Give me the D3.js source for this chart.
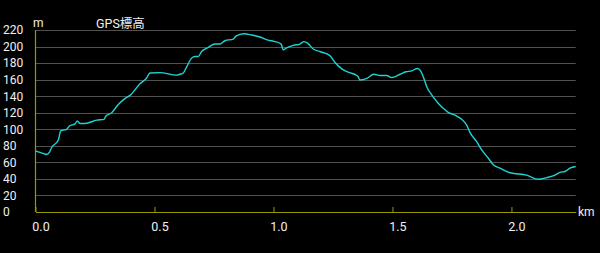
<!DOCTYPE html>
<html>
<head>
<meta charset="utf-8">
<script src="https://cdn.jsdelivr.net/npm/d3@7"></script>
<style>
  html, body { margin: 0; padding: 0; background: #000; }
  svg { display: block; font-family: Roboto, "Noto Sans CJK JP", sans-serif; }
</style>
</head>
<body>
<svg id="chart" width="600" height="253"></svg>
<script>
// distance along the track (km) and GPS elevation (m)
const distKm = [0.000, 0.019, 0.035, 0.047, 0.058, 0.068, 0.096, 0.106, 0.131, 0.142,
  0.166, 0.176, 0.187, 0.208, 0.257, 0.288, 0.296, 0.320, 0.348, 0.376,
  0.397, 0.439, 0.467, 0.481, 0.523, 0.593, 0.607, 0.621, 0.635, 0.656,
  0.670, 0.684, 0.698, 0.726, 0.754, 0.775, 0.796, 0.831, 0.842, 0.876,
  0.908, 0.943, 0.974, 1.006, 1.027, 1.034, 1.041, 1.055, 1.083, 1.111,
  1.128, 1.146, 1.167, 1.195, 1.237, 1.258, 1.287, 1.314, 1.350, 1.356,
  1.363, 1.392, 1.422, 1.447, 1.476, 1.497, 1.532, 1.557, 1.581, 1.604,
  1.616, 1.632, 1.644, 1.665, 1.692, 1.713, 1.734, 1.763, 1.791, 1.812,
  1.826, 1.854, 1.875, 1.903, 1.924, 1.952, 1.994, 2.064, 2.113, 2.148,
  2.183, 2.204, 2.225, 2.246, 2.270];
const elevM = [74, 72, 70.5, 69.5, 72, 78, 87, 98, 100, 104,
  106.5, 110, 107, 107, 111, 112, 116, 120, 130, 137,
  141, 155, 162, 168, 168.5, 165.5, 166.5, 168, 175.5, 186,
  188, 188, 194, 199, 203, 203, 207, 209, 212.5, 215.5,
  214, 211.5, 208, 206, 204, 202, 196, 198.5, 201.5, 203,
  206, 203.5, 197, 194, 189, 181, 173, 169, 165, 163.5,
  159.5, 161.5, 166.5, 165, 165, 162.5, 166.5, 169.5, 170.5, 173.5,
  171.5, 161.5, 151.5, 141.5, 131.5, 125.5, 120.5, 117, 112, 105,
  96, 85, 75, 65, 57, 53, 47.5, 44.5, 39.5, 41.5,
  44.5, 48, 49, 53, 55];

const yTicks = [0, 20, 40, 60, 80, 100, 120, 140, 160, 180, 200, 220];
const xTicks = [0, 0.5, 1.0, 1.5, 2.0];
const title = "GPS標高";
const yUnit = "m";
const xUnit = "km";

const svg = d3.select("#chart");
const plotLeft = 35.5, plotRight = 575.7, plotTop = 30, plotBottom = 212;

const x = d3.scaleLinear().domain([0, 2.27]).range([plotLeft, plotRight]);
const y = d3.scaleLinear().domain([0, 220]).range([plotBottom, plotTop]);

// horizontal grid
svg.append("g")
  .selectAll("line")
  .data(yTicks.filter(d => d > 0))
  .enter().append("line")
  .attr("x1", plotLeft).attr("x2", plotRight)
  .attr("y1", d => Math.round(y(d)) + 0.5)
  .attr("y2", d => Math.round(y(d)) + 0.5)
  .attr("stroke", "#525252")
  .attr("stroke-width", 1.2);

// y labels
svg.append("g")
  .selectAll("text")
  .data(yTicks)
  .enter().append("text")
  .attr("x", 3)
  .attr("y", d => y(d))
  .attr("dy", "0.36em")
  .attr("fill", "#f0f0f0")
  .style("font-size", "12px")
  .text(d => d);

// x axis (olive line + little ticks)
const xAxis = d3.axisBottom(x)
  .tickValues(xTicks)
  .tickSizeInner(-5)
  .tickSizeOuter(0)
  .tickFormat(d3.format(".1f"));

const gx = svg.append("g")
  .attr("transform", `translate(0,${plotBottom})`)
  .call(xAxis);
gx.select(".domain").attr("stroke", "#9a9a00").attr("stroke-width", 1.2);
gx.selectAll(".tick line").attr("stroke", "#9a9a00");
gx.selectAll(".tick text")
  .attr("fill", "#f0f0f0")
  .attr("y", 10)
  .attr("dx", 5)
  .style("font-size", "12.5px")
  .style("font-family", "Roboto, sans-serif");

// left axis line
svg.append("line")
  .attr("x1", plotLeft).attr("x2", plotLeft)
  .attr("y1", plotTop).attr("y2", plotBottom)
  .attr("stroke", "#9a9a00")
  .attr("stroke-width", 1.2);

// elevation line
const line = d3.line()
  .x((d, i) => x(distKm[i]))
  .y(d => y(d))
  .curve(d3.curveMonotoneX);

svg.append("path")
  .datum(elevM)
  .attr("d", line)
  .attr("fill", "none")
  .attr("stroke", "#1fd3d3")
  .attr("stroke-width", 1.4);

// units + title
svg.append("text")
  .attr("x", 33).attr("y", 26.5)
  .attr("fill", "#f0f0f0")
  .style("font-size", "12px")
  .text(yUnit);

svg.append("text")
  .attr("x", 96).attr("y", 27.5)
  .attr("fill", "#f0f0f0")
  .style("font-size", "12.5px")
  .text(title);

svg.append("text")
  .attr("x", 578).attr("y", plotBottom)
  .attr("dy", "0.36em")
  .attr("fill", "#f0f0f0")
  .style("font-size", "12px")
  .text(xUnit);
</script>
</body>
</html>
